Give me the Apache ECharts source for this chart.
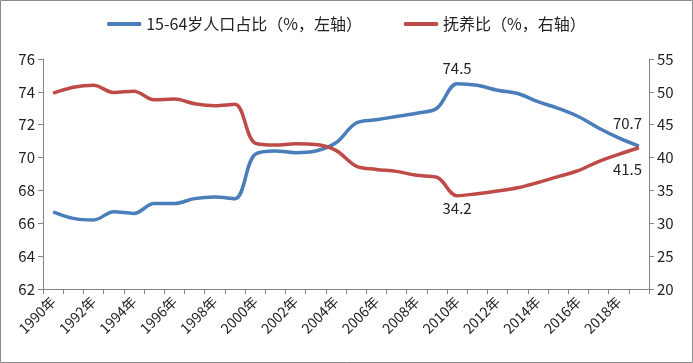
<!DOCTYPE html>
<html><head><meta charset="utf-8">
<script src="https://cdn.jsdelivr.net/npm/echarts@6/dist/echarts.min.js"></script>
<style>html,body{margin:0;padding:0;background:#fff}#c{width:693px;height:363px}</style>
</head><body><div id="c"></div>
<script>
const years = [];
for (let y = 1990; y <= 2019; y++) years.push(y + '年');
const workingShare = [66.7,66.3,66.2,66.7,66.6,67.2,67.2,67.5,67.6,67.5,70.2,70.4,70.3,70.4,70.9,72.1,72.3,72.5,72.7,73.0,74.5,74.4,74.1,73.9,73.4,73.0,72.5,71.8,71.2,70.7];
const dependency = [49.8,50.7,51.0,49.9,50.1,48.8,48.9,48.2,47.9,48.1,42.2,41.9,42.1,42.0,41.1,38.7,38.2,37.9,37.3,37.0,34.2,34.5,34.9,35.4,36.2,37.1,38.0,39.4,40.5,41.5];
const leftTicks = {min: 62, max: 76, interval: 2};
const rightTicks = {min: 20, max: 55, interval: 5};
const seriesNames = ['15-64岁人口占比（%，左轴）', '抚养比（%，右轴）'];

const font = '"Noto Sans CJK SC", "Noto Sans", sans-serif';
const blue = '#4a7ebb', red = '#be4b48';

function withLabels(arr, cfg) {
  return arr.map((v, i) => cfg[i] ? {value: v, label: Object.assign({show: true, color: '#222', fontSize: 15, fontFamily: font}, cfg[i])} : v);
}

const chart = echarts.init(document.getElementById('c'), null, {renderer: 'canvas'});
const axisLine = {show: true, lineStyle: {color: '#868686', width: 1}};
const axisTick = {show: true, lineStyle: {color: '#868686'}, length: 5};
chart.setOption({
  animation: false,
  backgroundColor: '#fff',
  graphic: [{type: 'rect', shape: {x: 0.5, y: 0.5, width: 692, height: 362}, style: {fill: 'none', stroke: '#8c8c8c', lineWidth: 1}, z: 100}],
  legend: {
    top: 11, left: 'center', itemGap: 42, itemWidth: 34, itemHeight: 4, icon: 'roundRect',
    textStyle: {fontSize: 16, color: '#222', fontFamily: font},
    data: seriesNames
  },
  grid: {left: 43, right: 44, top: 59, bottom: 74, containLabel: false},
  xAxis: {
    type: 'category', data: years, boundaryGap: true,
    axisLine: axisLine,
    axisTick: Object.assign({}, axisTick, {alignWithLabel: false, interval: 0}),
    axisLabel: {rotate: 45, interval: 1, fontSize: 14, color: '#222', fontFamily: font, margin: 10}
  },
  yAxis: [
    {type: 'value', min: leftTicks.min, max: leftTicks.max, interval: leftTicks.interval, splitLine: {show: false},
     axisLine: axisLine, axisTick: axisTick,
     axisLabel: {fontSize: 15, color: '#222', fontFamily: font, margin: 8}},
    {type: 'value', min: rightTicks.min, max: rightTicks.max, interval: rightTicks.interval, splitLine: {show: false},
     axisLine: axisLine, axisTick: axisTick,
     axisLabel: {fontSize: 15, color: '#222', fontFamily: font, margin: 8}}
  ],
  series: [
    {name: seriesNames[0], type: 'line', yAxisIndex: 0, smooth: 0.35, symbol: 'circle', symbolSize: 0, showSymbol: true,
     lineStyle: {color: blue, width: 3.5}, itemStyle: {color: blue},
     data: withLabels(workingShare, {20: {position: 'top', distance: 8}, 29: {position: [-26, -30]}})},
    {name: seriesNames[1], type: 'line', yAxisIndex: 1, smooth: 0.35, symbol: 'circle', symbolSize: 0, showSymbol: true,
     lineStyle: {color: red, width: 3.5}, itemStyle: {color: red},
     data: withLabels(dependency, {20: {position: 'bottom', distance: 5}, 29: {position: [-26, 14]}})}
  ]
});
</script></body></html>
